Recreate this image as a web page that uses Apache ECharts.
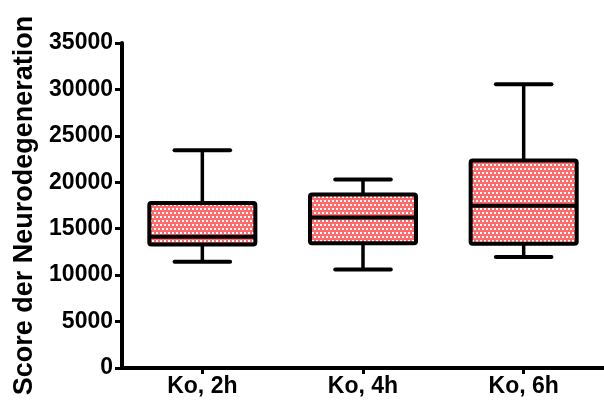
<!DOCTYPE html>
<html>
<head>
<meta charset="utf-8">
<script src="https://cdn.jsdelivr.net/npm/echarts@6/dist/echarts.min.js"></script>
<style>
  html, body { margin: 0; padding: 0; background: #fff; }
  #chart { width: 604px; height: 400px; }
</style>
</head>
<body>
<div id="chart"></div>
<script>
// Groups on the x axis
const categories = ['Ko, 2h', 'Ko, 4h', 'Ko, 6h'];
// Box plot statistics per group
const whiskerLow  = [11450, 10600, 11950];
const quartile1   = [13300, 13430, 13380];
const median      = [14130, 16210, 17470];
const quartile3   = [17780, 18690, 22350];
const whiskerHigh = [23440, 20300, 30560];
// Y axis range and step
const yMax = 35000;
const yStep = 5000;

const FONT = '"Liberation Sans", Arial, Helvetica, sans-serif';

// Red dotted fill used inside the boxes: offset rows of small white squares
function makePattern() {
  const c = document.createElement('canvas');
  c.width = 4; c.height = 8;
  const g = c.getContext('2d');
  g.fillStyle = '#ff6b6b';
  g.fillRect(0, 0, 4, 8);
  g.fillStyle = '#ffffff';
  g.fillRect(0, 0, 2, 2);
  g.fillRect(2, 4, 2, 2);
  return c;
}
const dotFill = { image: makePattern(), repeat: 'repeat' };

const boxData = categories.map((c, i) => [i, whiskerLow[i], quartile1[i], median[i], quartile3[i], whiskerHigh[i]]);

function renderBox(params, api) {
  const idx = api.value(0);
  const pLow = api.coord([idx, api.value(1)]);
  const pQ1 = api.coord([idx, api.value(2)]);
  const pMed = api.coord([idx, api.value(3)]);
  const pQ3 = api.coord([idx, api.value(4)]);
  const pHigh = api.coord([idx, api.value(5)]);
  const band = api.size([1, 0])[0];
  const halfBox = band * 0.33;
  const halfCap = band * 0.173;
  const cx = pMed[0];
  const capStyle = { stroke: '#000', lineWidth: 4, lineCap: 'round' };
  const wStyle = { stroke: '#000', lineWidth: 3.5, lineCap: 'butt' };
  return {
    type: 'group',
    children: [
      { type: 'line', shape: { x1: cx, y1: pHigh[1], x2: cx, y2: pQ3[1] }, style: wStyle },
      { type: 'line', shape: { x1: cx, y1: pQ1[1], x2: cx, y2: pLow[1] }, style: wStyle },
      { type: 'line', shape: { x1: cx - halfCap, y1: pHigh[1], x2: cx + halfCap, y2: pHigh[1] }, style: capStyle },
      { type: 'line', shape: { x1: cx - halfCap, y1: pLow[1], x2: cx + halfCap, y2: pLow[1] }, style: capStyle },
      {
        type: 'rect',
        shape: { x: cx - halfBox, y: pQ3[1], width: halfBox * 2, height: pQ1[1] - pQ3[1], r: 2 },
        style: { fill: dotFill, stroke: '#000', lineWidth: 4, lineJoin: 'round' }
      },
      { type: 'line', shape: { x1: cx - halfBox, y1: pMed[1], x2: cx + halfBox, y2: pMed[1] }, style: { stroke: '#000', lineWidth: 4 } }
    ]
  };
}

const chart = echarts.init(document.getElementById('chart'), null, { renderer: 'canvas' });
chart.setOption({
  backgroundColor: '#ffffff',
  animation: false,
  grid: { left: 122, top: 43, bottom: 32, width: 486, containLabel: false },
  xAxis: {
    type: 'category',
    data: categories,
    boundaryGap: true,
    axisLine: { show: true, lineStyle: { color: '#000', width: 4 } },
    axisTick: { show: true, alignWithLabel: true, length: 6, lineStyle: { color: '#000', width: 3 } },
    axisLabel: { color: '#000', fontFamily: FONT, fontWeight: 'bold', fontSize: 23, margin: 7 },
    splitLine: { show: false }
  },
  yAxis: {
    type: 'value',
    min: 0,
    max: yMax,
    interval: yStep,
    name: 'Score der Neurodegeneration',
    nameLocation: 'middle',
    nameGap: 82,
    nameRotate: 90,
    nameTextStyle: { color: '#000', fontFamily: FONT, fontWeight: 'bold', fontSize: 27 },
    axisLine: { show: true, lineStyle: { color: '#000', width: 4 } },
    axisTick: { show: true, length: 7, lineStyle: { color: '#000', width: 3 } },
    axisLabel: { color: '#000', fontFamily: FONT, fontWeight: 'bold', fontSize: 23, margin: 9, formatter: v => String(v) },
    splitLine: { show: false }
  },
  series: [{
    type: 'custom',
    renderItem: renderBox,
    data: boxData,
    encode: { x: 0, y: [1, 2, 3, 4, 5] },
    clip: false
  }]
});
</script>
</body>
</html>
